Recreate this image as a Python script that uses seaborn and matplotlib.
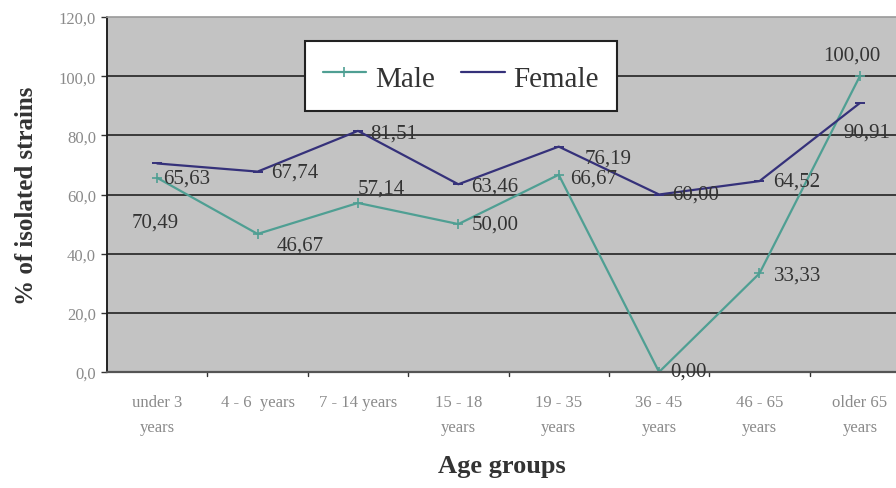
import matplotlib
matplotlib.use("Agg")
import matplotlib.pyplot as plt
import seaborn as sns
import pandas as pd

# Age groups on the category axis
age_groups = ["under 3\nyears", "4 - 6  years", "7 - 14 years", "15 - 18\nyears",
              "19 - 35\nyears", "36 - 45\nyears", "46 - 65\nyears", "older 65\nyears"]

# Share of isolated strains (%) per sex
male = [65.63, 46.67, 57.14, 50.00, 66.67, 0.00, 33.33, 100.00]
female = [70.49, 67.74, 81.51, 63.46, 76.19, 60.00, 64.52, 90.91]

y_ticks = [0, 20, 40, 60, 80, 100, 120]

MALE_C = "#4f9f93"
FEMALE_C = "#35317a"
SERIF = ["Liberation Serif", "DejaVu Serif"]

sns.set_theme(style="white")
plt.rcParams["font.family"] = SERIF

df = pd.DataFrame({
    "pos": list(range(len(age_groups))) * 2,
    "value": male + female,
    "sex": ["Male"] * len(male) + ["Female"] * len(female),
})

fig = plt.figure(figsize=(8.96, 4.89), dpi=100)
ax = fig.add_axes([107 / 896, 1 - 373 / 489, (896 - 107) / 896, 355 / 489])
ax.set_facecolor("#c3c3c3")

sns.lineplot(data=df[df.sex == "Male"], x="pos", y="value", ax=ax, color=MALE_C,
             marker="+", markersize=7, markeredgewidth=1.2, markeredgecolor=MALE_C,
             linewidth=1.6, label="Male", sort=False)
sns.lineplot(data=df[df.sex == "Female"], x="pos", y="value", ax=ax, color=FEMALE_C,
             marker="_", markersize=7, markeredgewidth=1.4, markeredgecolor=FEMALE_C,
             linewidth=1.6, label="Female", sort=False)

ax.set_ylim(0, 120)
ax.set_xlim(-0.5, 7.36)
ax.set_yticks(y_ticks)
ax.set_yticklabels([f"{t:.1f}".replace(".", ",") for t in y_ticks],
                   fontsize=12, color="#8a8a8a")
ax.set_xticks(range(len(age_groups)))
ax.set_xticklabels(age_groups, fontsize=12, color="#8a8a8a", linespacing=1.7)
ax.tick_params(axis="x", length=0, pad=16)
ax.tick_params(axis="y", length=4, width=1, color="#333333", pad=4, left=True)

# Tick marks between categories
for b in range(1, 8):
    ax.plot([b - 0.5, b - 0.5], [0, -1.2], color="#333333", lw=1, clip_on=False)

for y in y_ticks[1:-1]:
    ax.axhline(y, color="#3a3a3a", lw=1.4, zorder=1)

ax.spines["right"].set_visible(False)
ax.spines["top"].set_color("#9a9a9a")
ax.spines["top"].set_linewidth(1.2)
ax.spines["left"].set_color("#222222")
ax.spines["left"].set_linewidth(1.4)
ax.spines["bottom"].set_color("#555555")
ax.spines["bottom"].set_linewidth(1.6)

ax.set_xlabel("Age groups", fontsize=19, fontweight="bold", color="#333333", labelpad=14)
ax.set_ylabel("% of isolated strains", fontsize=18, fontweight="bold", color="#333333",
              labelpad=15)

# Value labels (offsets in pixels, text anchored left-middle unless noted)
male_offsets = [(6, 0, "left"), (19, -11, "left"), (0, 15, "left"), (13, 0, "left"),
                (11, -3, "left"), (11, 1, "left"), (14, -2, "left"), (-8, 21, "center")]
female_offsets = [(-2, -59, "center"), (14, 0, "left"), (12, -2, "left"), (13, -2, "left"),
                  (26, -11, "left"), (13, 0, "left"), (14, 0, "left"), (7, -29, "center")]
PX = 72 / 100


def fmt(v):
    return f"{v:.2f}".replace(".", ",")


for vals, offs in ((male, male_offsets), (female, female_offsets)):
    for i, (v, (dx, dy, ha)) in enumerate(zip(vals, offs)):
        ax.annotate(fmt(v), (i, v), xytext=(dx * PX, dy * PX), textcoords="offset points",
                    ha=ha, va="center", fontsize=15, color="#333333", zorder=5)

leg = ax.legend(loc="upper left", bbox_to_anchor=(0.251, 0.932), ncol=2, fontsize=21,
                frameon=True, fancybox=False, edgecolor="#222222", facecolor="white",
                framealpha=1, handlelength=1.5, handletextpad=0.3, columnspacing=0.9,
                handleheight=1.45, borderpad=0.6, borderaxespad=0)
leg.get_frame().set_linewidth(1.5)
for t in leg.get_texts():
    t.set_color("#333333")

fig.savefig("out.png", dpi=100, facecolor="white")
